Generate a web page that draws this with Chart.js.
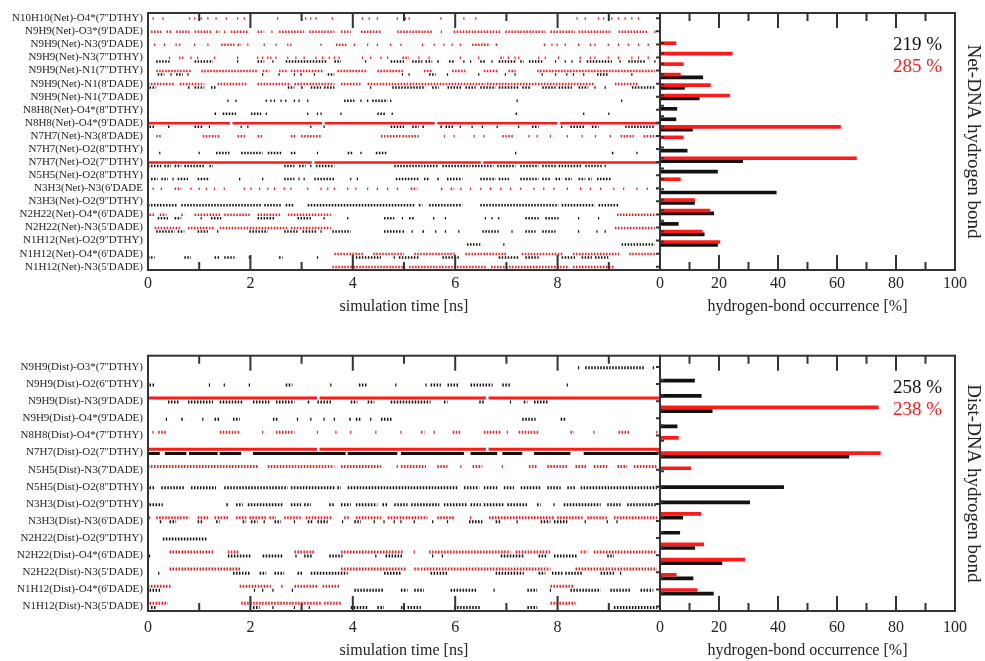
<!DOCTYPE html>
<html>
<head>
<meta charset="utf-8">
<script src="https://cdn.jsdelivr.net/npm/chart.js@4.4.1/dist/chart.umd.min.js"></script>
<style>
  body { margin: 0; background: #fff; }
  canvas { position: absolute; }
</style>
</head>
<body>
<canvas id="netTrace" style="left:0;top:0" width="670" height="320"></canvas>
<canvas id="netBars" style="left:620px;top:0" width="365" height="320"></canvas>
<canvas id="distTrace" style="left:0;top:330px" width="670" height="331"></canvas>
<canvas id="distBars" style="left:620px;top:330px" width="365" height="331"></canvas>
<script>
// ---- Net-DNA panel ----
const netLabels = ["N10H10(Net)-O4*(7''DTHY)", "N9H9(Net)-O3*(9'DADE)", "N9H9(Net)-N3(9'DADE)", "N9H9(Net)-N3(7''DTHY)",
  "N9H9(Net)-N1(7''DTHY)", "N9H9(Net)-N1(8'DADE)", "N9H9(Net)-N1(7'DADE)", "N8H8(Net)-O4*(8''DTHY)",
  "N8H8(Net)-O4*(9'DADE)", "N7H7(Net)-N3(8'DADE)", "N7H7(Net)-O2(8''DTHY)", "N7H7(Net)-O2(7''DTHY)",
  "N5H5(Net)-O2(8''DTHY)", "N3H3(Net)-N3(6'DADE", "N3H3(Net)-O2(9''DTHY)", "N2H22(Net)-O4*(6'DADE)",
  "N2H22(Net)-N3(5'DADE)", "N1H12(Net)-O2(9''DTHY)", "N1H12(Net)-O4*(6'DADE)", "N1H12(Net)-N3(5'DADE)"];
const netBlackPct = [null, null, null, 14.5, 8.3, 13.3, 5.7, 5.4, 11, null, 9.2, 28, 19.5, null, 39.4, 11.7, 18.2, 6.2, 15, 19.5];
const netRedPct = [5.4, 24.5, 7.9, 6.9, 17.1, 23.6, null, null, 61.2, 7.9, null, 66.6, null, 6.9, null, 11.7, 16.9, null, 14.3, 20.3];
const netTotals = ['219 %', '285 %'];

// occurrence over time [ns]: a number is a single hit, a pair is a run of hits
const netRedTimes = [
  [0.1, 0.29, 0.81, 0.91, 1.04, 1.17, 1.33, 1.53, 1.75, 1.88, 2.53, 3.08, 3.18, 3.28, 3.6, 4.19, 4.32, 4.48, 4.87, 5.03, 5.1, 5.72, 6.17, 6.4, 8.38, 8.54, 8.8, 8.9, 9.06, 9.19, 9.32, 9.45, 9.58],
  [[0.06, 0.26], [0.36, 0.45], [0.55, 0.81], [0.91, 1.23], [1.33, 1.4], 1.5, [1.62, 1.95], [2.14, 2.27], 2.42, [2.56, 3.05], [3.15, 3.64], [3.77, 3.96], [4.16, 4.55], [4.87, 5.55], 5.73, [5.97, 6.88], [6.98, 7.76], [7.86, 8.34], [8.41, 9.06], [9.19, 9.77], 9.9],
  [0.13, 0.32, 0.55, 0.62, 0.91, 1.17, [1.43, 1.69], [1.75, 1.82], 1.95, 2.27, 2.5, 2.73, 2.79, 3.38, [3.67, 3.9], 4.03, 4.29, 4.48, 4.74, 4.94, 5.36, 5.59, 5.78, 5.94, 6.1, [6.33, 6.66], [6.79, 6.85], [7.73, 7.79], 7.89, 7.99, 8.15, 8.41, 8.64, 8.73, 8.99, 9.19, 9.38, 9.58, 9.77],
  [0.42, 0.62, 0.68, 0.84, 0.97, 1.3, 1.75, 2.14, 2.24, 2.34, 2.4, 2.5, 2.73, 2.89, 3.05, 3.28, 3.41, 3.54, 3.64, 3.73, 4.19, 4.35, 4.55, 4.68, [4.97, 5.1], 5.29, 5.49, 6.1, 6.46, [6.88, 6.95], 7.04, 7.17, 7.24, 7.63, 7.76, 8.02, 8.44, 8.64, 8.73, 8.99, 9.19, 9.45, 9.58, 9.77],
  [[0.16, 0.84], [1.04, 2.14], [2.24, 2.37], [2.56, 2.73], [2.79, 3.44], [3.7, 4.29], [4.48, 5.0], [5.39, 5.55], [5.94, 6.2], [6.56, 6.85], [7.04, 7.18], [7.6, 9.9]],
  [[0, 0.52], [0.62, 1.1], [1.36, 1.95], [2.14, 2.79], [2.86, 3.64], [3.77, 4.16], [4.29, 6.59], [6.62, 8.73], [9.12, 9.58]],
  [],
  [],
  [[0, 1.6], [1.65, 3.4], [3.45, 5.6], [5.65, 8.0], [8.05, 10]],
  [[0.16, 0.26], [1.07, 1.4], [1.75, 1.92], [2.14, 2.24], [2.79, 2.89], [2.99, 3.38], [4.55, 4.94], [4.97, 5.29], 5.79, 5.98, 6.37, 6.56, [6.92, 7.15], 7.44, 7.6, 7.86, 8.19, 8.48, 8.74, 9.03, [9.23, 9.49], [9.68, 9.94]],
  [],
  [[0, 3.2], [3.25, 6.5], [6.55, 10]],
  [],
  [0.1, 0.26, [0.52, 0.65], 0.84, 1.0, 1.14, 1.3, 1.49, 1.88, 2.01, 2.18, 2.34, 2.47, 2.66, 2.79, 3.12, 3.38, 3.51, 3.64, 3.9, 4.06, 4.29, 4.48, 4.68, 4.87, [5.13, 5.26], [5.72, 5.78], [5.91, 5.98], 6.11, 6.3, 6.5, 6.69, 6.89, 7.08, 7.28, 7.54, 7.73, 7.93, 8.19, 8.45, 8.64, 8.84, 9.1, 9.29, 9.55, 9.75, 9.94],
  [],
  [[0.03, 0.13], [0.23, 0.36], [0.65, 0.71], [0.91, 1.43], [1.49, 2.01], [2.14, 2.6], [2.73, 3.57], [9.16, 9.9]],
  [[0.13, 0.65], [0.78, 1.3], [1.4, 2.73], [2.79, 3.57], [9.12, 9.9]],
  [],
  [[3.64, 4.2], [4.4, 5.0], [5.2, 6.0], [6.2, 7.0], [7.3, 8.1], [8.3, 9.2], [9.4, 9.9]],
  [[3.6, 5.0], [5.1, 6.6], [6.7, 8.2], [8.3, 9.1]]
];
const netBlackTimes = [
  [], [], [],
  [[0.16, 0.42], [0.91, 1.27], 1.75, [2.14, 2.27], 2.44, [2.69, 3.51], [3.64, 3.77], 4.25, [4.74, 5.0], [5.16, 5.36], [5.42, 5.55], [5.65, 5.71], [5.88, 5.97], 6.17, 6.3, [6.49, 6.59], 6.72, [6.85, 7.18], [7.27, 7.34], [7.44, 7.7], 7.96, 8.15, 8.28, 8.44, [8.57, 9.06], 9.22, [9.38, 9.71], 9.9],
  [[0.19, 0.32], 0.45, [0.55, 0.68], 0.78, 2.24, 2.56, 2.86, 2.99, 3.25, [3.51, 3.64], 4.97, 5.1, [5.49, 5.62], 5.85, 6.46, 6.98, 7.17, 7.7, 7.96, 8.18, 8.31, 8.51, [8.77, 9.0], 9.45],
  [[0.03, 0.16], [0.78, 0.84], [0.91, 1.1], [1.23, 1.33], [2.73, 2.86], [2.99, 3.05], [3.18, 3.38], [3.44, 3.64], 4.35, [4.77, 5.42], [5.55, 5.68], [5.85, 6.14], [6.2, 6.4], [6.49, 6.79], [6.85, 7.24], [7.31, 7.47], [7.7, 7.96], [8.02, 8.28], [8.41, 8.6], 8.73, 8.93, [9.45, 9.9]],
  [1.56, 1.72, 2.31, 2.4, 2.47, 2.6, 2.69, 2.86, 2.95, 3.12, [3.83, 4.03], 4.16, 4.29, [4.38, 4.68], 4.74, 7.21, 9.25],
  [[1.3, 1.36], [1.46, 1.72], [2.01, 2.21], 2.31, 3.12, 3.31, 3.38, 3.77, [4.48, 4.64], 4.77, [7.18, 7.24], 8.51, 9.0],
  [[0.03, 0.13], [0.39, 0.45], [0.91, 1.07], 1.2, 1.82, 1.95, 3.18, 3.44, [4.74, 5.0], [5.16, 5.29], [5.36, 5.42], [5.71, 5.75], [5.81, 5.97], 6.1, 6.33, 6.53, 6.82, 7.24, [7.5, 7.63], 8.08, [8.25, 8.54], [8.67, 8.8], [9.32, 9.9]],
  [],
  [0.23, 1.0, [1.33, 1.59], [1.82, 2.24], [2.34, 2.6], [2.79, 2.89], 3.31, [3.9, 3.99], 4.16, [4.45, 4.68], 7.18, [9.06, 9.12], 9.55],
  [[0, 0.26], [0.32, 0.45], [0.52, 0.65], [0.71, 1.1], [1.2, 1.27], [2.66, 2.86], [2.95, 3.08], 3.18, [3.28, 3.64], [4.81, 5.36], [5.39, 5.68], [5.75, 6.3], [6.33, 6.75], [6.82, 7.18], [7.27, 7.63], [7.7, 7.99], [8.02, 8.47], [8.54, 8.86], 8.93],
  [[0.06, 0.19], [0.26, 0.39], 0.49, [0.58, 0.78], [0.97, 1.2], 1.79, 2.24, [2.66, 2.86], 2.95, 3.05, [3.25, 3.64], 3.96, 4.09, [4.84, 5.29], [5.39, 5.49], [5.65, 5.71], [5.84, 6.14], [6.49, 6.79], [6.85, 7.05], [7.27, 7.63], [7.7, 7.86], [7.96, 8.08], [8.15, 8.28], [8.41, 8.54], [8.6, 8.67], [8.77, 9.06]],
  [],
  [[0, 0.58], [0.65, 2.21], [2.27, 2.6], [2.69, 2.86], [3.12, 5.23], [5.29, 5.36], [5.49, 6.14], [6.49, 8.02], [8.08, 8.73], [8.8, 9.19]],
  [[0.19, 0.39], [0.52, 0.65], 1.04, [1.23, 1.43], [2.14, 2.47], [2.92, 3.18], 3.44, 3.9, [4.61, 4.81], 4.97, [5.1, 5.19], 5.58, 5.81, 6.59, 6.72, 6.85, [7.37, 7.63], [7.76, 8.02], 8.41, 8.8],
  [[0.16, 0.52], [0.58, 0.71], [0.97, 1.17], 1.36, [1.98, 2.34], [2.66, 2.92], [3.02, 3.31], 3.38, [3.6, 3.96], [4.61, 4.94], [4.97, 5.03], 5.16, [5.36, 5.42], 5.62, 5.81, 6.07, [6.53, 6.85], 7.11, [7.37, 7.57], [7.7, 7.96], 8.41, 8.77, 8.93],
  [[6.23, 6.49], 6.95, [9.25, 9.9]],
  [[0, 0.13], [0.71, 0.84], [1.3, 1.4], [1.49, 1.69], 1.98, [2.56, 2.63], 3.31, [4.06, 4.55], 4.81, [4.9, 5.29], [5.75, 6.07], [6.85, 7.24], [7.37, 7.63], [8.08, 8.34], [8.47, 8.67], [8.73, 8.99]],
  [[0, 0.13], 0.52, [0.78, 0.91], [1.23, 1.36], [1.43, 1.56], [1.59, 1.88], [2.08, 2.21], [2.5, 2.73], [3.05, 3.18], 3.25, [3.38, 3.57], [4.03, 4.55], 4.81, [4.9, 5.03], [5.1, 5.94], [6.04, 6.14], [6.98, 7.18], [7.24, 7.7], [8.02, 8.54], [8.6, 8.86], [9.06, 9.19]]
];

// ---- Dist-DNA panel ----
const distLabels = ["N9H9(Dist)-O3*(7''DTHY)", "N9H9(Dist)-O2(6''DTHY)", "N9H9(Dist)-N3(9'DADE)", "N9H9(Dist)-O4*(9'DADE)",
  "N8H8(Dist)-O4*(7''DTHY)", "N7H7(Dist)-O2(7''DTHY)", "N5H5(Dist)-N3(7'DADE)", "N5H5(Dist)-O2(8''DTHY)",
  "N3H3(Dist)-O2(9''DTHY)", "N3H3(Dist)-N3(6'DADE)", "N2H22(Dist)-O2(9''DTHY)", "N2H22(Dist)-O4*(6'DADE)",
  "N2H22(Dist)-N3(5'DADE)", "N1H12(Dist)-O4*(6'DADE)", "N1H12(Dist)-N3(5'DADE)"];
const distBlackPct = [11.7, 14, 17.7, 5.8, null, 64, null, 41.9, 30.4, 7.7, 6.7, 11.8, 21, 11.2, 18.1];
const distRedPct = [null, null, 74, null, 6.2, 74.7, 10.4, null, null, 13.8, null, 14.8, 28.7, 5.5, 12.6];
const distTotals = ['258 %', '238 %'];

const distRedTimes = [
  [], [],
  [[0, 3.3], [3.35, 6.6], [6.65, 10]],
  [],
  [0.1, [0.2, 0.36], [1.4, 1.79], 2.24, [2.5, 2.86], 3.31, 3.67, 3.96, 4.45, 4.94, [5.33, 5.4], 5.59, [5.95, 6.11], [6.56, 6.89], 7.02, [7.24, 7.63], [8.25, 8.32], 8.71, [9.19, 9.42], 9.94],
  [[0, 3.3], [3.35, 6.6], [6.65, 10]],
  [[0, 2.14], [2.34, 3.64], [3.77, 4.55], 4.87, [4.94, 5.43], [5.65, 5.85], 6.11, [6.34, 6.53], 6.92, [7.44, 7.6], [7.8, 8.19], [8.35, 8.58], [8.71, 8.97], [9.17, 9.36], [9.49, 9.94]],
  [], [],
  [0.03, [0.16, 0.81], [0.97, 1.2], [1.3, 1.59], [1.72, 1.92], [1.98, 2.31], [2.37, 2.5], [2.66, 2.99], [3.08, 3.6], [3.83, 3.93], [4.06, 4.55], [4.68, 5.46], [5.65, 5.98], 6.3, [6.66, 7.93], [7.99, 8.51], [8.58, 8.97], [9.1, 9.94]],
  [],
  [[0.42, 1.3], [1.56, 1.79], [2.86, 3.25], [3.77, 5.0], 5.2, [5.49, 7.08], [7.18, 7.86], [8.45, 8.58], [8.71, 9.94]],
  [[0.42, 1.82], [3.77, 5.04], [5.2, 5.3], [5.33, 7.86], [8.35, 9.94]],
  [[0, 0.45], [1.79, 2.4], [2.6, 2.66], [2.86, 3.31], [3.41, 3.73], [7.86, 8.32]],
  [[0.03, 0.39], [1.82, 3.38], [3.44, 3.77], [7.86, 8.35]]
];
const distBlackTimes = [
  [8.41, [8.54, 9.71], 9.87],
  [[0.03, 0.13], 1.2, 1.49, 1.98, [2.69, 2.82], 3.57, [4.12, 4.29], 4.84, 5.43, [5.52, 5.72], [5.85, 6.08], [6.3, 6.73], [6.92, 7.08], 8.19],
  [[0.39, 0.62], [0.78, 1.27], [1.4, 1.85], [2.05, 2.37], [2.5, 2.86], [3.12, 3.18], [3.31, 3.6], [3.96, 4.09], [4.29, 4.42], [4.74, 5.52], [5.78, 5.85], [6.47, 6.56], 7.08, [7.34, 7.41], [7.54, 7.83]],
  [0.36, [0.65, 0.71], 1.07, [1.3, 1.4], [1.66, 1.79], [2.44, 2.53], 2.92, 3.18, 3.44, 3.64, [3.93, 3.96], [4.06, 4.16], 4.35, [4.55, 4.77], [7.31, 7.57], [8.06, 8.15]],
  [],
  [[0, 0.23], [0.33, 0.75], [0.8, 1.36], [1.4, 1.82], [2.05, 3.86], [3.9, 4.87], [4.94, 6.17], [6.3, 6.82], [6.92, 7.31], [7.54, 8.25], [8.51, 9.97]],
  [],
  [[0.03, 0.13], [0.26, 0.71], [0.84, 1.33], [1.49, 2.73], [2.79, 3.64], [3.7, 3.77], [3.9, 6.04], [6.17, 6.47], [6.56, 6.82], [6.95, 7.15], [7.28, 7.67], [7.8, 8.06], [8.19, 8.35], [8.45, 9.94]],
  [[0.03, 0.29], [1.53, 1.59], [1.72, 1.85], [1.95, 2.63], [2.79, 2.99], [3.05, 3.18], [3.54, 3.64], [3.77, 3.96], [4.06, 4.48], [4.58, 4.68], [4.81, 5.07], [5.14, 5.69], [5.78, 6.24], [6.3, 6.5], [6.56, 6.95], [7.02, 7.41], [7.6, 7.67], 7.93, [8.12, 8.84], [8.97, 9.23], [9.36, 9.94]],
  [[0.23, 0.29], [0.42, 0.55], [0.97, 1.07], [1.33, 1.4], [1.85, 1.92], [2.01, 2.14], 2.27, [2.47, 2.6], 2.86, [3.12, 3.21], [3.31, 3.51], 3.8, [4.03, 4.16], 4.42, 4.61, 4.81, 4.94, 5.2, 5.56, 5.85, [6.27, 6.53], [6.79, 6.89], 7.21, [7.67, 7.86], [7.93, 8.19], 8.54, 8.97, 9.16],
  [[0.29, 1.17]],
  [0.03, [1.56, 2.01], [2.24, 2.63], 2.89, [3.05, 3.21], [3.54, 3.8], 4.45, [4.64, 4.97], 5.56, 5.75, [6.89, 7.34], [7.63, 7.8], [7.93, 8.38], [8.97, 9.1]],
  [0.21, [1.66, 2.01], [2.18, 2.31], [2.47, 2.66], [2.92, 3.02], [3.18, 3.9], [4.61, 4.94], [5.52, 5.85], [6.79, 7.34], [7.63, 7.76], [7.89, 8.12], [8.15, 8.48], [8.84, 9.1], 9.23],
  [[0.03, 0.26], 2.08, 2.24, 2.44, 2.82, [4.03, 4.61], [4.94, 5.07], [5.2, 5.39], [5.91, 6.43], 6.76, [7.41, 7.6], 7.86, [8.25, 8.84], [9.03, 9.42], [9.62, 9.87]],
  [[0.06, 0.16], [2.05, 2.18], 2.44, 2.86, 3.15, [3.96, 4.29], [4.48, 4.61], [4.94, 5.0], [5.07, 5.33], [5.98, 6.5], [7.41, 7.6], [9.1, 9.94]]
];

const timeTicks = [0, 2, 4, 6, 8];
const pctTicks = [0, 20, 40, 60, 80, 100];

const SERIF = '"Liberation Serif", "Times New Roman", serif';
const RED = '#ff1a1a';
const BLACK = '#111';
Chart.defaults.font.family = SERIF;
Chart.defaults.color = '#222';
Chart.defaults.animation = false;
Chart.defaults.events = [];
Chart.defaults.plugins.legend.display = false;
Chart.defaults.plugins.tooltip.enabled = false;

// frame with grace-style inward ticks
const framePlugin = {
  id: 'frame',
  afterDraw(chart, args, opts) {
    const { ctx, chartArea: a, scales } = chart;
    const x = scales.x, y = scales.y;
    ctx.save();
    ctx.strokeStyle = '#333';
    ctx.lineWidth = 2;
    ctx.strokeRect(a.left, a.top, a.right - a.left, a.bottom - a.top);
    ctx.beginPath();
    opts.major.forEach(v => {
      const px = x.getPixelForValue(v);
      ctx.moveTo(px, a.top); ctx.lineTo(px, a.top + 15);
      ctx.moveTo(px, a.bottom); ctx.lineTo(px, a.bottom - 15);
    });
    opts.minor.forEach(v => {
      const px = x.getPixelForValue(v);
      ctx.moveTo(px, a.top); ctx.lineTo(px, a.top + 8);
      ctx.moveTo(px, a.bottom); ctx.lineTo(px, a.bottom - 8);
    });
    (opts.rows || []).forEach(v => {
      const py = y.getPixelForValue(v);
      if (opts.rowSide === 'right') { ctx.moveTo(a.right, py); ctx.lineTo(a.right - 4, py); }
      else { ctx.moveTo(a.left, py); ctx.lineTo(a.left + 4, py); }
    });
    ctx.stroke();
    if (opts.totals) {
      ctx.font = '19px ' + SERIF;
      ctx.textAlign = 'right';
      ctx.textBaseline = 'middle';
      ctx.fillStyle = BLACK;
      ctx.fillText(opts.totals[0], a.right - 13, a.top + 32);
      ctx.fillStyle = RED;
      ctx.fillText(opts.totals[1], a.right - 13, a.top + 54);
    }
    ctx.restore();
  }
};

function traceData(rows, pct, offset, dense) {
  const pts = [];
  rows.forEach((marks, i) => {
    if ((pct[i] > 50) !== dense) return;
    marks.forEach(m => {
      const s = Array.isArray(m) ? m[0] : m - 0.012;
      const e = Array.isArray(m) ? m[1] : m + 0.012;
      pts.push({ x: s, y: i + 1 + offset }, { x: e, y: i + 1 + offset }, { x: e, y: null });
    });
  });
  return pts;
}

function traceSet(rows, pct, offset, color, dense, width) {
  return {
    data: traceData(rows, pct, offset, dense),
    showLine: true,
    borderColor: color,
    borderWidth: width,
    borderDash: dense ? [] : [1.5, 1.5],
    borderCapStyle: 'butt',
    pointRadius: 0,
    spanGaps: false
  };
}

function makePanel(p) {
  const rowNums = p.labels.map((_, i) => i + 1);
  new Chart(document.getElementById(p.traceId), {
    type: 'scatter',
    data: {
      datasets: [
        traceSet(p.redTimes, p.redPct, p.redOff, RED, false, p.lw),
        traceSet(p.redTimes, p.redPct, p.redOff, RED, true, p.lw),
        traceSet(p.blackTimes, p.blackPct, p.blackOff, BLACK, false, p.lw),
        traceSet(p.blackTimes, p.blackPct, p.blackOff, BLACK, true, p.lw)
      ]
    },
    options: {
      responsive: false,
      layout: { padding: { top: p.top, right: 10, left: 0, bottom: 0 } },
      scales: {
        x: {
          type: 'linear', min: 0, max: 10,
          afterBuildTicks: s => { s.ticks = timeTicks.map(v => ({ value: v })); },
          ticks: { font: { size: 16 }, padding: p.tickPad, maxRotation: 0 },
          grid: { display: false, drawTicks: false },
          border: { display: false },
          title: { display: true, text: 'simulation time [ns]', font: { size: 16 }, padding: { bottom: p.titlePad } },
          afterFit: s => { s.height = 50; }
        },
        y: {
          type: 'linear', reverse: true, min: p.yMin, max: p.yMax,
          afterBuildTicks: s => { s.ticks = rowNums.map(v => ({ value: v })); },
          ticks: { autoSkip: false, font: { size: 11 }, padding: 5, callback: v => p.labels[v - 1] },
          grid: { display: false, drawTicks: false },
          border: { display: false },
          afterFit: s => { s.width = 148; }
        }
      },
      plugins: { frame: { major: [2, 4, 6, 8], minor: [1, 3, 5, 7, 9], rows: rowNums, rowSide: 'right' } }
    },
    plugins: [framePlugin]
  });

  const bars = (pct, off, color) => ({
    data: pct.map((v, i) => v == null ? null : { x: v, y: i + 1 + off }).filter(d => d),
    backgroundColor: color,
    barThickness: 3,
    grouped: false
  });
  new Chart(document.getElementById(p.barId), {
    type: 'bar',
    data: { datasets: [bars(p.redPct, p.redOff, RED), bars(p.blackPct, p.blackOff, BLACK)] },
    options: {
      responsive: false,
      indexAxis: 'y',
      layout: { padding: { top: p.top, left: 40, right: 0, bottom: 0 } },
      scales: {
        x: {
          type: 'linear', min: 0, max: 100,
          afterBuildTicks: s => { s.ticks = pctTicks.map(v => ({ value: v })); },
          ticks: { font: { size: 16 }, padding: p.tickPad, maxRotation: 0 },
          grid: { display: false, drawTicks: false },
          border: { display: false },
          title: { display: true, text: 'hydrogen-bond occurrence [%]', font: { size: 16 }, padding: { bottom: p.titlePad } },
          afterFit: s => { s.height = 50; }
        },
        y: {
          type: 'linear', position: 'right', reverse: true, min: p.yMin, max: p.yMax,
          ticks: { display: false },
          grid: { display: false, drawTicks: false },
          border: { display: false },
          title: { display: true, text: p.title, font: { size: 19 }, padding: { top: 1 } },
          afterFit: s => { s.width = 30; }
        }
      },
      plugins: { frame: { major: [20, 40, 60, 80], minor: [10, 30, 50, 70, 90], rows: rowNums, rowSide: 'left', totals: p.totals } }
    },
    plugins: [framePlugin]
  });
}

makePanel({
  traceId: 'netTrace', barId: 'netBars', labels: netLabels, title: 'Net-DNA hydrogen bond',
  redTimes: netRedTimes, blackTimes: netBlackTimes, redPct: netRedPct, blackPct: netBlackPct, totals: netTotals,
  yMin: 0.6, yMax: 20.25, redOff: 0.03, blackOff: 0.3, top: 13, tickPad: 4, titlePad: 4, lw: 2.5
});
makePanel({
  traceId: 'distTrace', barId: 'distBars', labels: distLabels, title: 'Dist-DNA hydrogen bond',
  redTimes: distRedTimes, blackTimes: distBlackTimes, redPct: distRedPct, blackPct: distBlackPct, totals: distTotals,
  yMin: 0.34, yMax: 15.26, redOff: -0.19, blackOff: 0.05, top: 25.7, tickPad: 7, titlePad: 1, lw: 3
});
</script>
</body>
</html>
